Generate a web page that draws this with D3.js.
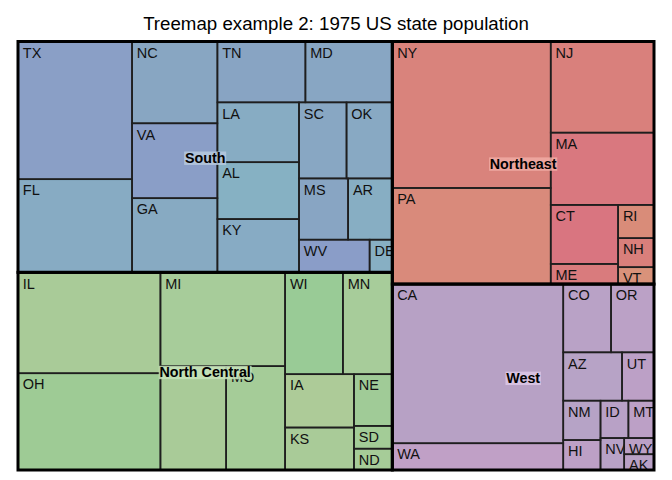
<!DOCTYPE html>
<html><head><meta charset="utf-8">
<script src="https://cdn.jsdelivr.net/npm/d3@7"></script>
<style>body{margin:0;background:#fff}svg{display:block}</style>
</head><body>
<svg id="chart" width="672" height="480"></svg>
<script>
const titleText = "Treemap example 2: 1975 US state population";
const regions = ["South", "North Central", "Northeast", "West"];
const regionLabelBg = ["#b7cade", "#c6e2ba", "#f0aba4", "#dcc7e6"];
const states = ["AL","AK","AZ","AR","CA","CO","CT","DE","FL","GA","HI","ID","IL","IN","IA","KS","KY","LA","ME","MD","MA","MI","MN","MS","MO","MT","NE","NV","NH","NJ","NM","NY","NC","ND","OH","OK","OR","PA","RI","SC","SD","TN","TX","UT","VT","VA","WA","WV","WI","WY"];
const stateRegion = ["South","West","West","South","West","West","Northeast","South","South","South","West","West","North Central","North Central","North Central","North Central","South","South","Northeast","South","Northeast","North Central","North Central","South","North Central","West","North Central","West","Northeast","Northeast","West","Northeast","South","North Central","North Central","South","West","Northeast","Northeast","South","North Central","South","South","West","Northeast","South","West","South","North Central","West"];
const population = [3615,365,2212,2110,21198,2541,3100,579,8277,4931,868,813,11197,5313,2861,2280,3387,3806,1058,4122,5814,9111,3921,2341,4767,746,1544,590,812,7333,1144,18076,5441,637,10735,2715,2284,11860,931,2816,681,4173,12237,1203,472,4981,3559,1799,4589,376];
const stateColors = ["#86b1c3","#b9a1c6","#b7a3c6","#87aec3","#b7a1c5","#b9a2c6","#d97580","#87afc3","#87abc3","#87aac2","#bda0c6","#b8a1c6","#a9cb98","#a9cb98","#adcb98","#a9cb98","#87abc4","#87acc3","#d97b7d","#88a6c3","#d9787f","#a7cc9a","#a7cc9a","#88a5c3","#a5cc98","#bca0c6","#a0cb97","#b8a2c6","#d97f7b","#d9807c","#b6a3c6","#d9837c","#88a6c2","#a6cc98","#9ecb95","#88a9c3","#bba1c6","#d98a7b","#d98c79","#88a7c3","#a3cc97","#88a4c3","#8a9fc6","#bca0c6","#d9927a","#8a9ec7","#c0a0c6","#8a9dc8","#99cb96","#bba0c6"];
// state labels not printed in the reference (covered by a region label)
const hiddenStateLabels = ["IN"];

const area = {x0: 18, y0: 41.5, x1: 654, y1: 470};
const svg = d3.select("#chart");
const font = "'Liberation Sans', Arial, Helvetica, sans-serif";

svg.append("text")
  .attr("x", (area.x0 + area.x1) / 2).attr("y", 29.5)
  .attr("text-anchor", "middle")
  .style("font-family", font)
  .style("font-size", "18.7px")
  .attr("fill", "#000")
  .text(titleText);

const data = {
  name: "root",
  children: regions.map((r, ri) => ({
    name: r, bg: regionLabelBg[ri],
    children: states.map((s, i) => ({name: s, value: population[i], color: stateColors[i], region: stateRegion[i]}))
                    .filter(d => d.region === r)
  }))
};

// Ordered treemap, pivot-by-size (as used by R's treemap package)
function pivotLayout(items, x0, y0, x1, y1) {
  const n = items.length;
  if (n === 0) return;
  if (n === 1) { Object.assign(items[0], {x0, y0, x1, y1}); return; }
  const sum = arr => arr.reduce((a, d) => a + d.value, 0);
  const total = sum(items);
  const w = x1 - x0, h = y1 - y0;
  let p = 0;
  items.forEach((d, i) => { if (d.value > items[p].value) p = i; });
  const L1 = items.slice(0, p), rest = items.slice(p + 1), P = items[p];
  const v1 = sum(L1);
  let best = Infinity, bk = 0;
  for (let k = 0; k <= rest.length; k++) {
    const v2 = sum(rest.slice(0, k));
    let pw, ph;
    if (w >= h) { pw = w * (P.value + v2) / total; ph = h * P.value / (P.value + v2); }
    else { ph = h * (P.value + v2) / total; pw = w * P.value / (P.value + v2); }
    const r = Math.max(pw / ph, ph / pw);
    if (r < best) { best = r; bk = k; }
  }
  const L2 = rest.slice(0, bk), L3 = rest.slice(bk);
  const v2 = sum(L2);
  if (w >= h) {
    const w1 = w * v1 / total;
    pivotLayout(L1, x0, y0, x0 + w1, y1);
    const pw = w * (P.value + v2) / total;
    const ph = h * P.value / (P.value + v2);
    Object.assign(P, {x0: x0 + w1, y0: y0, x1: x0 + w1 + pw, y1: y0 + ph});
    pivotLayout(L2, x0 + w1, y0 + ph, x0 + w1 + pw, y1);
    pivotLayout(L3, x0 + w1 + pw, y0, x1, y1);
  } else {
    const h1 = h * v1 / total;
    pivotLayout(L1, x0, y0, x1, y0 + h1);
    const ph = h * (P.value + v2) / total;
    const pw = w * P.value / (P.value + v2);
    Object.assign(P, {x0: x0, y0: y0 + h1, x1: x0 + pw, y1: y0 + h1 + ph});
    pivotLayout(L2, x0 + pw, y0 + h1, x1, y0 + h1 + ph);
    pivotLayout(L3, x0, y0 + h1 + ph, x1, y1);
  }
}
function pivotTile(parent, x0, y0, x1, y1) {
  pivotLayout(parent.children.slice(), x0, y0, x1, y1);
}

const root = d3.hierarchy(data).sum(d => d.value || 0).sort((a, b) => b.value - a.value);
d3.treemap().tile(pivotTile).size([area.x1 - area.x0, area.y1 - area.y0]).paddingInner(0)(root);

const g = svg.append("g").attr("transform", `translate(${area.x0},${area.y0})`);
const leaves = root.leaves();

const defs = svg.append("defs");
leaves.forEach((d, i) => {
  defs.append("clipPath").attr("id", "clip" + i)
    .append("rect").attr("x", d.x0).attr("y", d.y0)
    .attr("width", d.x1 - d.x0).attr("height", d.y1 - d.y0);
});

g.selectAll("rect.cell").data(leaves).join("rect")
  .attr("class", "cell")
  .attr("x", d => d.x0).attr("y", d => d.y0)
  .attr("width", d => d.x1 - d.x0).attr("height", d => d.y1 - d.y0)
  .attr("fill", d => d.data.color);

g.selectAll("text.state").data(leaves.filter(d => !hiddenStateLabels.includes(d.data.name))).join("text")
  .attr("class", "state")
  .attr("clip-path", d => `url(#clip${leaves.indexOf(d)})`)
  .attr("x", d => d.x0 + 4.8).attr("y", d => d.y0 + 16.2)
  .style("font-family", font).style("font-size", "14.5px")
  .attr("fill", "#111")
  .text(d => d.data.name);

g.selectAll("rect.cellborder").data(leaves).join("rect")
  .attr("class", "cellborder")
  .attr("x", d => d.x0).attr("y", d => d.y0)
  .attr("width", d => d.x1 - d.x0).attr("height", d => d.y1 - d.y0)
  .attr("fill", "none").attr("stroke", "#1e1e1e").attr("stroke-width", 1.6);

const regionNodes = root.children;
g.selectAll("rect.region").data(regionNodes).join("rect")
  .attr("class", "region")
  .attr("x", d => d.x0).attr("y", d => d.y0)
  .attr("width", d => d.x1 - d.x0).attr("height", d => d.y1 - d.y0)
  .attr("fill", "none").attr("stroke", "#000").attr("stroke-width", 3);

const rl = g.selectAll("g.rlabel").data(regionNodes).join("g").attr("class", "rlabel");
rl.each(function(d) {
  const sel = d3.select(this);
  const cx = (d.x0 + d.x1) / 2, cy = (d.y0 + d.y1) / 2 + 1.3;
  const bg = sel.append("rect");
  const t = sel.append("text")
    .attr("x", cx).attr("y", cy + 5)
    .attr("text-anchor", "middle")
    .style("font-family", font).style("font-size", "14.3px").style("font-weight", "bold")
    .attr("fill", "#000")
    .text(d.data.name);
  const bw = t.node().getComputedTextLength() + 1.5;
  bg.attr("x", cx - bw / 2).attr("y", cy - 6.7).attr("width", bw).attr("height", 13.4)
    .attr("fill", d.data.bg).attr("fill-opacity", 0.86);
});
</script>
</body></html>
